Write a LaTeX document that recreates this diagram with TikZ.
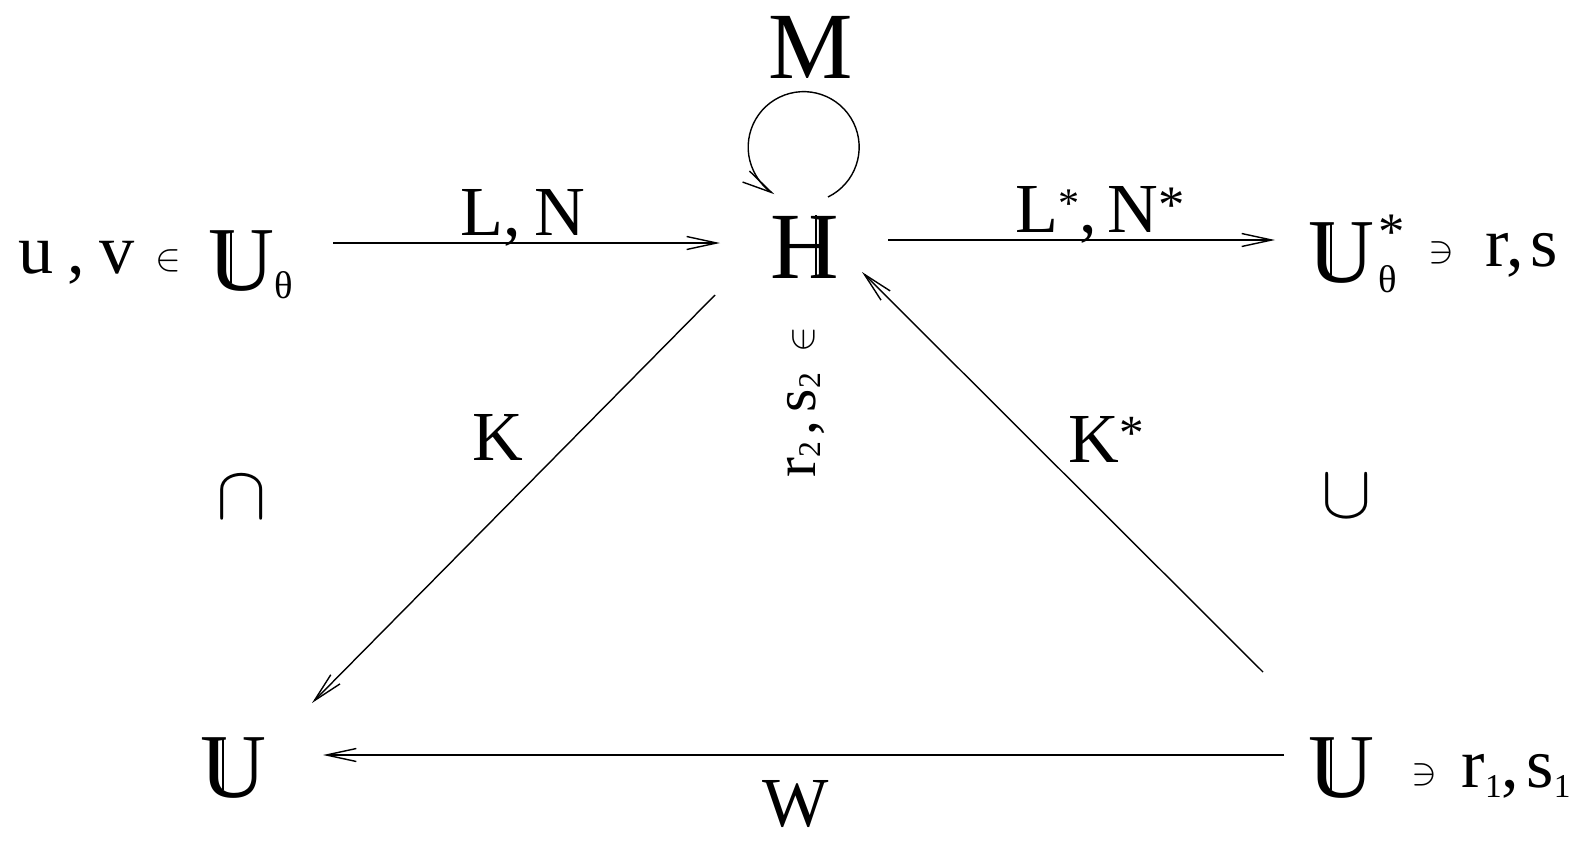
\documentclass[tikz,border=0pt]{standalone}
\usepackage{amssymb}
\usepackage{amsmath}
\usepackage{graphicx}
\usepackage{fontspec}
\setmainfont{Liberation Serif}
\usetikzlibrary{arrows.meta}

% double-struck letters
\newcommand{\dsU}{\ooalign{U\cr\hskip0.24em\rule[0.08em]{0.018em}{0.57em}\cr}}
\newcommand{\dsH}{\ooalign{H\cr\hskip0.47em\rule{0.018em}{0.66em}\cr}}
% lowered index, raised star, scaled math symbol
\newcommand{\idx}[3]{\raisebox{-#3}{\fontsize{#1}{#1}\selectfont #2}}
\newcommand{\starup}[2]{\raisebox{#2}{\fontsize{#1}{#1}\selectfont *}}
\newcommand{\msym}[2]{{\fontsize{10}{12}\selectfont\scalebox{#1}{$#2$}}}

\begin{document}
\begin{tikzpicture}[x=0.02cm, y=-0.02cm,
    arr/.style={-{Straight Barb[length=6mm,width=2.6mm]}, line width=0.8pt},
    big/.style={font=\fontsize{52}{56}\selectfont, inner sep=0pt, anchor=base west},
    lab/.style={font=\fontsize{40}{44}\selectfont, inner sep=0pt, anchor=base west}]

    \useasboundingbox (0,0) rectangle (1573,842);

    % 1. top row: spaces and H
    \node[lab] (uv) at (18,273) {u\kern.2em,\kern.2em v\kern.3em\raisebox{0.06cm}{\msym{2.2}{\in}}};
    \node[big] (Uth) at (208,290) {\dsU\idx{22}{θ}{0.16cm}};
    \node[big, font=\fontsize{54}{58}\selectfont] (H) at (770,278) {\dsH};
    \node[big, font=\fontsize{54}{58}\selectfont] (M) at (768,78) {M};
    \node[big] (Uths) at (1308,282) {\dsU\kern.05em\rlap{\starup{30}{0.66cm}}\idx{22}{θ}{0.2cm}};
    \node[lab] (rs) at (1428,266) {\raisebox{0.08cm}{\msym{2.2}{\ni}}\kern.45em r,\kern.1em s};

    % 2. bottom row
    \node[big] (Ul) at (200,797) {\dsU};
    \node[big] (Ur) at (1308,797) {\dsU};
    \node[lab] (rs1) at (1411,787) {\raisebox{0.06cm}{\msym{2.2}{\ni}}\kern.35em r\idx{19}{1}{0.2cm},\kern.1em s\idx{19}{1}{0.2cm}};

    % 3. inclusions and the pair in H
    \node[inner sep=0pt] (capL) at (242,498) {\msym{4.3}{\cap}};
    \node[inner sep=0pt] (cupR) at (1347,497) {\msym{4.3}{\cup}};
    \node[font=\fontsize{34}{36}\selectfont, inner sep=0pt, anchor=base west, rotate=90] (rs2) at (815,478) {r\idx{18}{2}{0.1cm}\kern.1em,\kern.15em s\idx{18}{2}{0.1cm}\kern.35em\raisebox{0.04cm}{\msym{2.2}{\in}}};

    % 4. arrow labels
    \node[lab] (LN) at (460,235) {L,\kern.2em N};
    \node[lab] (LNs) at (1015,232) {L\starup{24}{0.3cm},\kern.15em N\starup{30}{0.2cm}};
    \node[lab] (K) at (472,460) {K};
    \node[lab] (Ks) at (1068,462) {K\starup{28}{0.25cm}};
    \node[lab] (W) at (762,826) {W};

    % 5. arrow ends
    \coordinate (Uth-out) at (333,243);
    \coordinate (H-in) at (720,243);
    \coordinate (H-out) at (888,240);
    \coordinate (Uths-in) at (1275,240);
    \coordinate (H-sw) at (715,295);
    \coordinate (Ul-ne) at (312,703);
    \coordinate (Ur-nw) at (1263,672);
    \coordinate (H-se) at (862,272);
    \coordinate (Ur-w) at (1284,755);
    \coordinate (Ul-e) at (323,755);
    \coordinate (loop-s) at (828,197);

    % 6. arrows
    \draw[arr] (Uth-out) -- (H-in);
    \draw[arr] (H-out) -- (Uths-in);
    \draw[arr] (H-sw) -- (Ul-ne);
    \draw[arr] (Ur-nw) -- (H-se);
    \draw[arr] (Ur-w) -- (Ul-e);
    \draw[arr] (loop-s) arc[start angle=-64, end angle=238, radius=1.11cm];
\end{tikzpicture}
\end{document}
